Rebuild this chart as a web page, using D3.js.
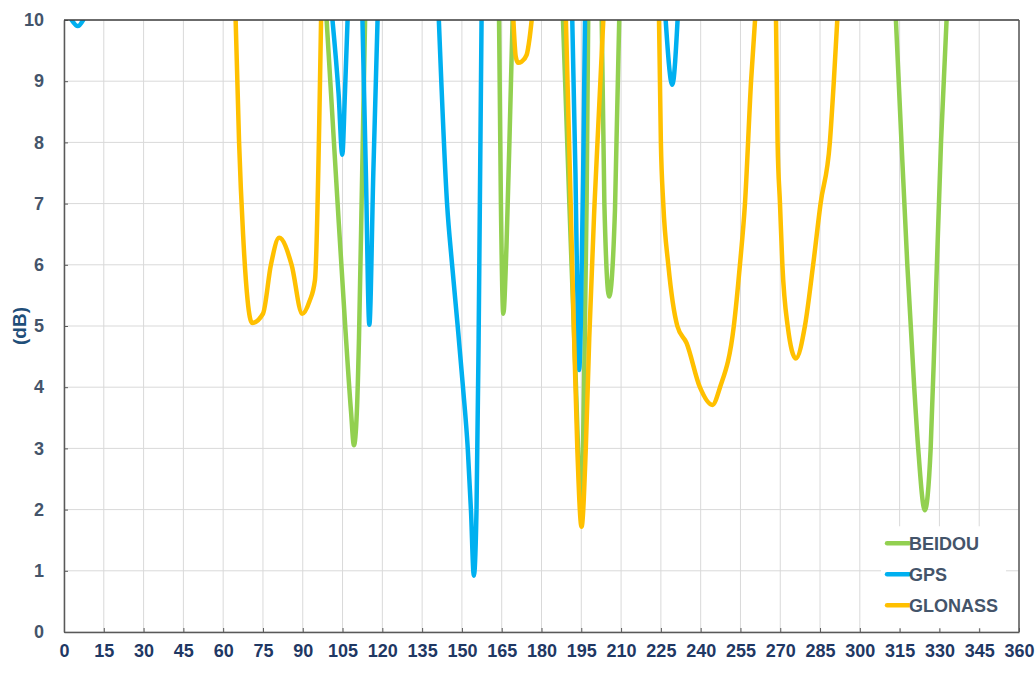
<!DOCTYPE html>
<html>
<head>
<meta charset="utf-8">
<script src="https://cdn.jsdelivr.net/npm/d3@7"></script>
<style>
  body { margin: 0; background: #fff; }
  svg { display: block; font-family: "Liberation Sans", Arial, sans-serif; }
</style>
</head>
<body>
<div id="chart"></div>
<script>
// angle (deg) vs level (dB); each series is a list of dips that leave the top of the axis
const xTicks = d3.range(0, 361, 15);
const yTicks = d3.range(0, 11, 1);

const beidou = [
  [[99, 10], [103, 7.1], [106, 5], [108.2, 3.6], [109.3, 3.05], [110.4, 3.6], [111.2, 4.8], [112.4, 7.5], [113.5, 10]],
  [[164, 10], [164.7, 7], [165.6, 5.2], [166.8, 6.3], [168.2, 8.5], [169.1, 10]],
  [[188.1, 10], [190.5, 7], [192.6, 4.5], [195, 2.1], [196.2, 4.5], [197, 7], [197.6, 10]],
  [[202.7, 10], [203.7, 7], [205.5, 5.48], [207.7, 6.9], [209.3, 10]],
  [[313.6, 10], [315.7, 8], [317.9, 6], [320.5, 4], [322, 3], [324.5, 1.99], [326.7, 3], [328.3, 5], [330.6, 8], [332.7, 10]]
];

const gps = [
  [[2.9, 10], [5.2, 9.9], [7.2, 10]],
  [[101.2, 10], [103.5, 8.8], [104.9, 7.8], [105.9, 8.8], [106.9, 10]],
  [[112.5, 10], [113.8, 7.5], [115.1, 5.02], [116.6, 7.5], [118.2, 10]],
  [[141.3, 10], [144.4, 7], [146.3, 6], [148.4, 5], [150.4, 4], [152.2, 3], [153.4, 2], [154.5, 0.92], [155.5, 2], [156.3, 4.8], [157.4, 10]],
  [[191.6, 10], [192.8, 7.5], [193.7, 5], [194.2, 4.28], [194.8, 5], [195.7, 7.5], [196.4, 10]],
  [[226.8, 10], [229.3, 8.94], [231.3, 10]]
];

const glonass = [
  [[64.7, 10], [66, 8], [67.5, 6.5], [70.9, 5.05], [75, 5.2], [78, 6], [81.1, 6.44], [85.8, 6], [89.8, 5.2], [92.5, 5.4], [94.6, 5.75], [96.9, 10]],
  [[169.4, 10], [170.3, 9.4], [171.2, 9.3], [172.5, 9.32], [174.4, 9.43], [175.5, 9.7], [176.3, 10]],
  [[189.2, 10], [191, 7], [192.3, 4.8], [193.5, 3], [195.1, 1.72], [196.7, 3], [198, 4.8], [200, 7], [203.3, 10]],
  [[224.3, 10], [225, 8], [225.9, 7], [227.8, 6], [231.2, 5], [234.7, 4.72], [239.7, 4], [244.4, 3.71], [247.3, 4], [252.5, 5], [254.8, 6], [256.7, 7], [259, 9], [260.5, 10]],
  [[268.4, 10], [269, 8], [269.9, 7], [270.8, 6], [272.8, 5], [275.9, 4.47], [279.3, 5], [282.4, 6], [285.2, 7], [288.7, 8], [290.2, 9], [291.5, 10]]
];

const seriesNames = ["BEIDOU", "GPS", "GLONASS"];
const seriesColors = ["#92d050", "#00b0f0", "#ffc000"];
const seriesData = [beidou, gps, glonass];

const W = 1035, H = 673;
const margin = { top: 20, right: 16, bottom: 41, left: 64 };
const width = W - margin.left - margin.right;
const height = H - margin.top - margin.bottom;

const svg = d3.select("#chart").append("svg")
    .attr("width", W)
    .attr("height", H);

const g = svg.append("g")
    .attr("transform", `translate(${margin.left},${margin.top})`);

const x = d3.scaleLinear().domain([0, 360]).range([0, width]);
const y = d3.scaleLinear().domain([0, 10]).range([height, 0]);

// grid
g.append("g")
    .selectAll("line")
    .data(xTicks)
    .join("line")
    .attr("x1", d => x(d)).attr("x2", d => x(d))
    .attr("y1", 0).attr("y2", height)
    .attr("stroke", "#d9d9d9").attr("stroke-width", 1);

g.append("g")
    .selectAll("line")
    .data(yTicks)
    .join("line")
    .attr("x1", 0).attr("x2", width)
    .attr("y1", d => y(d)).attr("y2", d => y(d))
    .attr("stroke", "#d9d9d9").attr("stroke-width", 1);

// axes
const xAxis = g.append("g")
    .attr("transform", `translate(0,${height})`)
    .call(d3.axisBottom(x).tickValues(xTicks).tickSizeInner(-4).tickSizeOuter(0).tickPadding(12));
const yAxis = g.append("g")
    .call(d3.axisLeft(y).tickValues(yTicks).tickSizeInner(-4).tickSizeOuter(0).tickPadding(20));

xAxis.selectAll("text")
    .attr("fill", "#1f3864")
    .style("font-size", "18px")
    .style("font-weight", "bold");
yAxis.selectAll("text")
    .attr("fill", "#44546a")
    .style("font-size", "18px")
    .style("font-weight", "bold");
xAxis.selectAll("line, path").attr("stroke", "#595959");
yAxis.selectAll("line, path").attr("stroke", "#595959");
xAxis.select("path").attr("stroke-width", 1.5);
yAxis.select("path").attr("stroke-width", 1.5);

// clip
svg.append("defs").append("clipPath")
    .attr("id", "plot-clip")
    .append("rect")
    .attr("width", width).attr("height", height);

const line = d3.line()
    .x(d => x(d[0]))
    .y(d => y(d[1]))
    .curve(d3.curveMonotoneX);

const lines = g.append("g").attr("clip-path", "url(#plot-clip)");
seriesData.forEach((segments, i) => {
    lines.selectAll(null)
        .data(segments)
        .join("path")
        .attr("d", line)
        .attr("fill", "none")
        .attr("stroke", seriesColors[i])
        .attr("stroke-width", 4.5)
        .attr("stroke-linecap", "round")
        .attr("stroke-linejoin", "round");
});

// frame on top and right
g.append("line")
    .attr("x1", 0).attr("x2", width).attr("y1", 0).attr("y2", 0)
    .attr("stroke", "#404040").attr("stroke-width", 1.5);
g.append("line")
    .attr("x1", width).attr("x2", width).attr("y1", 0).attr("y2", height)
    .attr("stroke", "#595959").attr("stroke-width", 1.5);

// y label
svg.append("text")
    .attr("transform", `translate(26,${margin.top + y(5)}) rotate(-90)`)
    .attr("text-anchor", "middle")
    .attr("fill", "#1f4e79")
    .style("font-size", "19px")
    .style("font-weight", "bold")
    .text("(dB)");

// legend
const legend = g.append("g")
    .attr("transform", `translate(${x(308)},${y(1.45)})`);
legend.append("rect")
    .attr("x", 0).attr("y", -17)
    .attr("width", 125).attr("height", 102)
    .attr("fill", "#fff");
seriesNames.forEach((name, i) => {
    const row = legend.append("g").attr("transform", `translate(0,${i * 31})`);
    row.append("line")
        .attr("x1", 6).attr("x2", 28)
        .attr("y1", 0).attr("y2", 0)
        .attr("stroke", seriesColors[i])
        .attr("stroke-width", 4.5)
        .attr("stroke-linecap", "round");
    row.append("text")
        .attr("x", 28).attr("y", 0)
        .attr("dy", "0.36em")
        .attr("fill", "#44546a")
        .style("font-size", "18px")
        .style("font-weight", "bold")
        .text(name);
});
</script>
</body>
</html>
